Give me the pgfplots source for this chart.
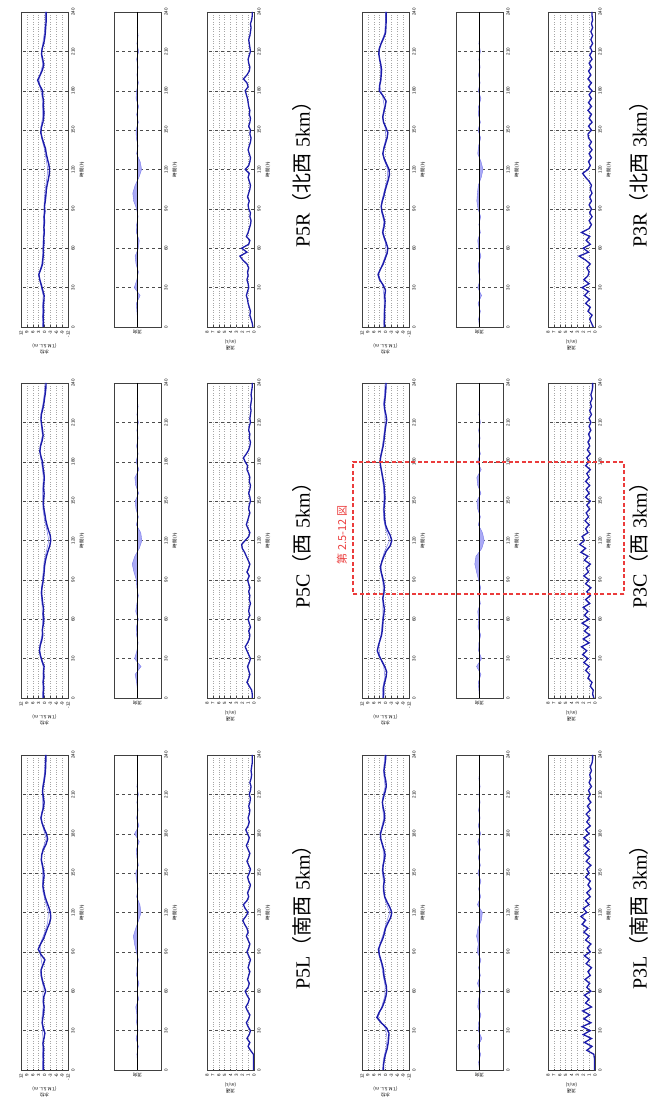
\documentclass[border=0pt]{standalone}
\usepackage{fontspec}
\setmainfont{Liberation Serif}
\newfontfamily\cjk{Noto Sans CJK JP}
\newfontfamily\tickfont{Liberation Sans}
\usepackage{graphicx}
\usepackage{pgfplots}
\usepackage{pgfplotstable}
\pgfplotsset{compat=1.18}

\definecolor{lineblue}{RGB}{28,28,170}
\definecolor{lightblue}{RGB}{120,120,235}
\definecolor{fillblue}{RGB}{170,170,245}
\definecolor{boxred}{RGB}{235,60,60}

% water level (T.M.S.L. m), every 4 h
\pgfplotstableread{
t L5 C5 R5 L3 C3 R3
0 0.6 0.6 0.6 1.1 1.1 0.5
4 0.6 0.6 0.5 1.0 0.9 0.6
8 0.5 0.4 0.7 0.6 1.0 0.4
12 0.6 0.7 0.4 0.0 0.4 0.5
16 0.4 0.3 0.6 -0.8 -0.3 0.3
20 0.8 0.5 0.3 -1.3 -0.6 0.2
24 0.3 0.2 0.2 -1.6 0.4 0.4
28 -0.2 1.2 0.9 -1.8 1.8 0.0
32 0.6 2.0 1.6 -0.6 3.2 1.2
36 1.2 2.6 2.4 2.2 4.2 3.0
40 0.8 2.2 2.9 4.4 3.6 3.8
44 0.4 1.4 1.9 3.2 2.8 2.6
48 0.2 0.9 1.0 1.6 2.0 1.2
52 0.6 1.1 0.8 0.6 1.6 0.2
56 0.3 0.6 0.5 -0.2 1.4 -0.8
60 -0.6 0.3 0.6 -0.6 1.2 -1.2
64 0.2 0.7 0.3 -0.4 0.8 -0.4
68 1.0 0.5 0.4 0.2 0.6 0.6
72 1.6 0.9 0.1 0.8 1.0 1.4
76 1.8 1.2 0.3 1.0 1.4 0.8
80 0.8 1.5 0.0 1.6 0.8 0.4
84 -0.2 1.3 0.2 2.4 0.6 1.0
88 1.8 0.8 -0.2 3.2 0.9 1.8
92 3.2 0.5 0.0 3.6 1.5 2.2
96 2.0 0.2 -0.4 2.6 2.2 1.6
100 0.5 0.0 -0.7 1.4 2.6 0.8
104 -0.5 -0.4 -0.9 0.6 1.8 0.2
108 -1.5 -1.0 -1.3 0.0 0.8 -0.6
112 -2.6 -1.8 -1.9 -1.2 -0.4 -1.4
116 -3.2 -2.7 -2.4 -2.6 -2.4 -2.0
120 -3.0 -3.2 -2.6 -3.2 -3.2 -1.8
124 -2.2 -2.9 -2.2 -2.2 -2.4 -0.6
128 -1.2 -2.0 -1.5 -0.8 -1.0 0.6
132 -0.3 -1.2 -0.9 0.4 0.0 1.4
136 0.3 -0.6 -0.5 0.8 0.4 0.8
140 0.8 -0.2 0.4 1.0 0.6 0.0
144 0.6 0.3 1.2 0.6 0.8 -0.8
148 0.2 0.6 1.9 0.9 0.5 -1.2
152 0.5 0.4 1.6 1.4 0.3 -0.2
156 1.0 0.2 0.8 1.2 0.4 1.0
160 1.6 0.5 0.4 0.6 0.6 1.4
164 1.4 0.3 0.3 0.2 0.9 0.8
168 0.6 0.1 0.6 0.8 1.4 0.2
172 -0.8 0.4 0.5 1.6 1.9 -0.3
176 -1.6 0.8 0.9 2.4 2.4 1.2
180 -1.0 1.0 1.0 2.6 2.8 3.2
184 0.2 1.8 2.4 1.8 2.4 3.0
188 1.2 2.4 3.5 1.0 1.8 2.4
192 1.8 2.0 2.2 0.4 1.2 2.2
196 1.2 1.2 1.0 0.6 0.8 2.0
200 0.5 0.7 0.4 1.2 0.5 2.4
204 0.2 1.0 0.9 1.6 0.2 3.0
208 0.6 1.4 1.5 1.0 -0.2 3.4
212 1.0 1.8 1.2 0.2 -0.6 3.2
216 0.7 1.6 0.4 -0.4 -0.2 2.2
220 0.2 0.9 -0.1 -0.2 0.4 1.0
224 -0.2 0.4 -0.4 0.4 0.6 0.0
228 -0.5 0.0 -0.6 0.8 0.3 -0.2
232 -0.6 -0.4 -0.8 0.4 0.0 -0.3
236 -0.7 -0.7 -0.8 0.0 -0.2 -0.3
240 -0.7 -0.8 -0.8 -0.2 -0.3 -0.3
}\water

% second (light) water level trace, every 8 h
\pgfplotstableread{
t L5 C5 R5 L3 C3 R3
0 1.0 1.0 1.0 1.5 1.5 0.9
8 0.9 0.8 1.1 1.1 1.4 0.8
16 0.9 0.8 1.0 -0.2 0.3 0.7
24 0.8 0.7 0.7 -0.9 0.9 0.8
32 1.1 2.2 1.9 0.1 3.0 1.5
40 1.3 2.4 2.8 3.8 3.4 3.6
48 0.7 1.3 1.4 2.0 2.3 1.6
56 0.8 1.0 0.9 0.4 1.8 -0.3
64 0.7 1.1 0.8 0.2 1.3 0.0
72 1.9 1.3 0.6 1.2 1.4 1.7
80 1.2 1.8 0.5 2.0 1.2 0.8
88 2.1 1.2 0.3 3.2 1.3 2.1
96 2.2 0.7 0.1 2.8 2.4 1.9
104 0.1 0.2 -0.3 1.1 2.1 0.6
112 -1.6 -1.0 -1.1 -0.4 0.4 -0.8
120 -2.0 -2.2 -1.7 -2.2 -2.1 -1.2
128 -0.5 -1.2 -0.8 -0.1 -0.2 0.9
136 0.8 0.0 0.1 1.2 0.9 1.1
144 1.0 0.8 1.5 1.1 1.2 -0.3
152 0.9 0.9 1.9 1.8 0.8 0.2
160 1.8 0.9 0.9 1.0 1.0 1.6
168 1.0 0.6 1.0 1.2 1.7 0.6
176 -0.9 1.2 1.3 2.5 2.5 1.5
184 0.6 2.1 2.5 2.1 2.6 3.0
192 2.0 2.2 2.3 0.9 1.6 2.4
200 0.9 1.1 0.9 1.5 0.9 2.6
208 1.0 1.7 1.7 1.4 0.3 3.3
216 1.0 1.9 0.9 0.2 0.3 2.4
224 0.2 0.8 0.1 0.8 1.0 0.4
232 -0.2 0.1 -0.3 0.8 0.5 0.1
240 -0.3 -0.3 -0.4 0.3 0.2 0.0
}\wthin

% current speed (m/s), every 3 h
\pgfplotstableread{
t L5 C5 R5 L3 C3 R3
0 0.1 0.3 0.2 0.1 0.2 0.3
3 0.1 0.3 0.3 0.1 0.4 0.6
6 0.1 0.4 0.5 0.1 0.3 0.9
9 0.1 0.8 0.7 0.1 0.8 0.5
12 0.1 1.2 0.6 0.2 0.5 1.2
15 0.6 0.9 0.8 1.4 1.2 0.8
18 1.0 0.7 1.0 0.5 0.9 1.6
21 0.7 0.9 1.1 1.8 1.6 0.9
24 1.2 1.1 1.3 0.6 1.0 1.8
27 0.8 0.8 1.1 2.0 1.9 1.1
30 0.6 0.6 0.9 0.8 1.2 2.2
33 1.0 0.9 1.0 2.2 2.1 1.0
36 1.3 1.2 1.2 0.7 1.4 1.9
39 0.9 1.5 1.0 1.9 2.3 1.2
42 0.7 1.1 1.1 0.9 1.0 1.0
45 1.1 0.8 0.9 2.1 2.0 1.4
48 1.4 0.7 1.2 0.6 0.9 0.8
51 1.0 0.9 1.9 1.6 1.8 1.6
54 0.8 0.6 2.4 1.0 1.1 2.7
57 1.2 0.8 1.2 1.8 2.2 1.1
60 1.5 1.0 2.1 0.7 1.0 2.0
63 1.0 0.7 0.9 1.4 1.8 0.8
66 0.8 0.9 0.7 0.9 1.2 1.5
69 1.1 0.8 1.3 1.7 2.0 0.9
72 0.9 0.6 1.0 0.8 0.9 2.3
75 0.7 0.8 0.8 1.2 1.6 1.0
78 1.0 0.7 0.6 0.6 0.8 0.6
81 0.8 0.9 0.5 1.5 1.4 1.0
84 0.6 0.7 0.7 0.9 0.7 0.5
87 0.9 0.9 0.6 1.8 1.6 0.9
90 1.2 1.1 0.9 0.8 1.0 0.6
93 0.9 0.8 1.0 1.3 1.9 1.0
96 0.7 1.2 0.8 0.7 1.1 0.6
99 1.0 0.9 1.1 1.6 1.5 0.9
102 1.3 0.7 0.9 1.0 0.8 0.5
105 1.0 1.0 0.7 1.9 1.8 0.8
108 1.2 1.3 0.6 1.2 1.2 0.6
111 1.6 1.6 0.8 2.2 2.4 1.0
114 1.9 2.0 1.0 1.6 1.6 1.6
117 1.4 2.1 0.8 2.4 2.6 2.1
120 1.0 1.5 1.5 1.4 1.8 1.2
123 1.5 0.9 0.9 2.0 2.2 0.8
126 1.8 0.7 0.7 1.0 1.2 1.1
129 1.2 1.0 0.6 1.6 1.6 0.6
132 0.9 1.3 0.8 0.8 1.0 1.0
135 1.1 1.1 1.0 1.4 1.7 0.5
138 0.8 0.9 0.8 0.7 1.1 1.0
141 0.6 0.7 0.6 1.2 1.5 0.6
144 0.9 0.9 0.5 0.8 0.9 1.1
147 1.1 0.8 0.7 1.6 1.4 1.2
150 0.8 0.6 0.6 1.0 0.8 0.6
153 0.6 0.7 0.9 1.4 1.6 1.1
156 0.9 0.9 0.7 0.7 1.0 0.5
159 1.2 0.7 0.6 1.5 1.5 1.0
162 0.9 0.6 0.8 0.9 0.9 0.6
165 0.7 0.8 0.7 1.7 1.6 1.2
168 1.0 0.7 0.9 1.0 1.0 0.6
171 1.3 0.9 1.0 1.8 1.4 1.1
174 1.0 1.2 1.1 1.1 0.8 0.6
177 0.8 1.1 1.3 1.9 1.6 1.0
180 1.1 1.5 1.5 1.0 1.0 0.5
183 1.4 1.8 1.0 1.6 1.4 1.1
186 1.0 1.3 1.2 0.8 0.8 0.6
189 0.8 0.9 1.8 1.4 1.3 1.2
192 1.0 0.7 1.2 0.9 0.9 0.7
195 0.8 0.6 0.8 1.5 1.2 1.1
198 0.7 0.8 0.7 0.8 0.8 0.6
201 0.9 0.7 0.9 1.3 1.1 1.0
204 0.7 0.9 1.0 0.7 0.7 0.5
207 0.6 0.8 0.8 1.2 1.0 0.9
210 0.8 0.6 0.6 0.8 0.7 0.5
213 0.6 0.7 0.7 1.1 1.0 0.8
216 0.5 0.6 0.8 0.6 0.6 0.4
219 0.7 0.5 0.9 1.0 0.9 0.7
222 0.5 0.6 0.7 0.7 0.6 0.4
225 0.4 0.5 0.6 0.9 0.8 0.7
228 0.5 0.4 0.5 0.6 0.5 0.4
231 0.4 0.5 0.6 0.8 0.7 0.6
234 0.3 0.4 0.4 0.5 0.5 0.4
237 0.3 0.3 0.3 0.4 0.4 0.5
240 0.3 0.3 0.3 0.4 0.4 0.5
}\speed

% current direction (north component of the feather), every 6 h
\pgfplotstableread{
t L5 C5 R5 L3 C3 R3
0 0 0 0 0 0 0
6 0 0 0 0.3 0.2 0.3
12 0.2 0.3 0.2 -0.4 0.4 -0.3
18 -0.3 0.8 0.4 0.6 -0.5 0.5
24 0.5 -1.2 -0.9 -0.8 1.0 -0.7
30 -0.2 1.0 1.1 0.4 -0.7 0.6
36 0.3 0.2 0.2 0.3 0.3 -0.2
42 0.2 -0.2 -0.3 -0.5 0.2 0.3
48 0.6 0.3 0.5 0.6 -0.4 0.4
54 -0.4 0.4 0.8 0.3 0.5 -0.5
60 0.2 -0.3 -0.3 -0.4 0.3 0.3
66 -0.5 0.6 -0.6 0.7 0.6 0.6
72 0.3 0.2 0.4 -0.3 -0.3 -0.3
78 0.2 -0.3 0.3 0.3 0.2 0.2
84 -0.3 0.2 -0.2 -0.5 -0.4 -0.4
90 0.4 0.4 0.3 0.8 0.3 0.5
96 1.0 1.2 1.3 0.4 1.0 0.9
102 1.4 1.8 1.6 1.0 1.6 0.7
108 0.6 0.9 0.8 0.5 1.2 0.4
114 -0.4 -0.6 -0.5 -0.6 -0.8 -0.6
120 -1.2 -1.5 -1.4 -1.0 -1.6 -1.2
126 -0.8 -1.1 -0.9 0.7 -1.0 -0.5
132 0.3 0.4 0.3 -0.4 0.4 0.6
138 -0.2 -0.3 -0.2 0.3 -0.3 0.3
144 0.3 0.5 0.4 -0.5 0.6 -0.4
150 0.6 0.8 0.5 0.6 0.9 0.5
156 -0.3 -0.4 -0.3 -0.3 -0.5 -0.3
162 0.2 0.6 0.3 0.4 0.6 0.4
168 0.4 0.9 -0.4 -0.3 0.9 0.3
174 -0.6 -0.5 0.5 0.6 -0.6 -0.5
180 1.0 0.5 0.3 -0.4 0.7 0.4
186 -0.5 -0.2 -0.3 0.4 -0.3 -0.2
192 0.3 0.3 0.2 -0.2 0.3 0.3
198 -0.2 -0.2 -0.2 0.3 -0.2 -0.2
204 0.2 0.2 0.3 -0.2 0.3 0.2
210 -0.3 -0.3 -0.4 0.2 -0.3 -0.3
216 0.2 0.2 0.2 -0.2 0.2 0.2
222 -0.1 -0.2 -0.2 0.2 -0.1 -0.1
228 0.1 0.1 0.1 -0.1 0.1 0.1
234 0 -0.1 -0.1 0.1 0 0
240 0 0 0 0 0 0
}\dir

\tikzset{
  tagnode/.style={font=\tickfont\fontsize{4}{4}\selectfont, above, inner sep=1pt},
  smalllab/.style={font=\tickfont\fontsize{4.5}{5}\selectfont, inner sep=1pt},
}

\pgfplotsset{
  panel/.style={
    scale only axis, width=315pt, height=47pt, anchor=north west,
    xmin=0, xmax=240, xtick={0,30,...,240},
    axis line style={black!75, line width=0.6pt},
    tick style={black!75, line width=0.4pt},
    major tick length=1.5pt, tick align=inside,
    tick label style={font=\tickfont\fontsize{4.5}{5}\selectfont},
    /pgf/number format/assume math mode=true,
    xmajorgrids,
    x grid style={black!70, dashed, line width=0.4pt},
    y grid style={black!35, dotted, line width=0.4pt},
    xlabel={時間 (h)},
    label style={font=\cjk\fontsize{4.5}{5.5}\selectfont, align=center},
    xlabel style={yshift=2pt},
  },
}

\newcommand{\waterpanel}[4]{%
\begin{axis}[panel, at={(#1pt,#2pt)}, ymin=-12, ymax=12, ytick={-12,-9,...,12},
  ymajorgrids, ylabel={水位\\(T.M.S.L. m)}]
\addplot[lightblue, line width=0.5pt] table[x=t, y=#3] {\wthin};
\addplot[lineblue, line width=1.4pt] table[x=t, y=#3] {\water};
\node[tagnode] at (rel axis cs:0.065,1) {#4};
\end{axis}}

\newcommand{\dirpanel}[4]{%
\begin{axis}[panel, at={(#1pt,#2pt)}, ymin=-8, ymax=8, ytick=\empty, ylabel={流向}]
\addplot[draw=lightblue, fill=fillblue, line width=0.4pt] table[x=t, y=#3] {\dir} \closedcycle;
\addplot[black, line width=0.5pt] coordinates {(0,0) (240,0)};
\node[tagnode] at (rel axis cs:0.065,1) {#4};
\node[smalllab, left] at (rel axis cs:0,0.95) {N};
\node[smalllab, right] at (rel axis cs:1,0.5) {E};
\end{axis}}

\newcommand{\speedpanel}[4]{%
\begin{axis}[panel, at={(#1pt,#2pt)}, ymin=0, ymax=8, ytick={0,1,...,8},
  ymajorgrids, ylabel={流速\\(m/s)},
  extra y ticks={3}, extra y tick labels={},
  extra y tick style={grid=major, major grid style={black!70, dashed, line width=0.4pt}}]
\addplot[lineblue, line width=1.3pt] table[x=t, y=#3] {\speed};
\node[tagnode] at (rel axis cs:0.065,1) {#4};
\end{axis}}

\begin{document}
\rotatebox{90}{%
\begin{tikzpicture}
\useasboundingbox (0,0) rectangle (1103pt,649pt);

% upper row: 5 km
\waterpanel{33}{628}{L5}{P5L}
\dirpanel{33}{535}{L5}{P5L}
\speedpanel{33}{442}{L5}{P5L}
\waterpanel{405}{628}{C5}{P5C}
\dirpanel{405}{535}{C5}{P5C}
\speedpanel{405}{442}{C5}{P5C}
\waterpanel{776}{628}{R5}{P5R}
\dirpanel{776}{535}{R5}{P5R}
\speedpanel{776}{442}{R5}{P5R}

% lower row: 3 km
\waterpanel{33}{287}{L3}{P3L}
\dirpanel{33}{193}{L3}{P3L}
\speedpanel{33}{101}{L3}{P3L}
\waterpanel{405}{287}{C3}{P3C}
\dirpanel{405}{193}{C3}{P3C}
\speedpanel{405}{101}{C3}{P3C}
\waterpanel{776}{287}{R3}{P3R}
\dirpanel{776}{193}{R3}{P3R}
\speedpanel{776}{101}{R3}{P3R}

\begin{scope}[every node/.style={font=\fontsize{20}{24}\selectfont}]
\node at (190.5pt,347pt) {P5L{\cjk （南西}\hspace{0.3em}5km{\cjk ）}};
\node at (562.5pt,347pt) {P5C{\cjk （西}\hspace{0.3em}5km{\cjk ）}};
\node at (933.5pt,347pt) {P5R{\cjk （北西}\hspace{0.3em}5km{\cjk ）}};
\node at (190.5pt,10pt) {P3L{\cjk （南西}\hspace{0.3em}3km{\cjk ）}};
\node at (562.5pt,10pt) {P3C{\cjk （西}\hspace{0.3em}3km{\cjk ）}};
\node at (933.5pt,10pt) {P3R{\cjk （北西}\hspace{0.3em}3km{\cjk ）}};
\end{scope}

\draw[boxred, line width=1.1pt, dash pattern=on 4pt off 2.5pt] (509pt,25pt) rectangle (641pt,296pt);
\node[boxred, font=\cjk\fontsize{11}{12}\selectfont] at (568pt,307pt) {第 2.5-12 図};
\end{tikzpicture}}
\end{document}
